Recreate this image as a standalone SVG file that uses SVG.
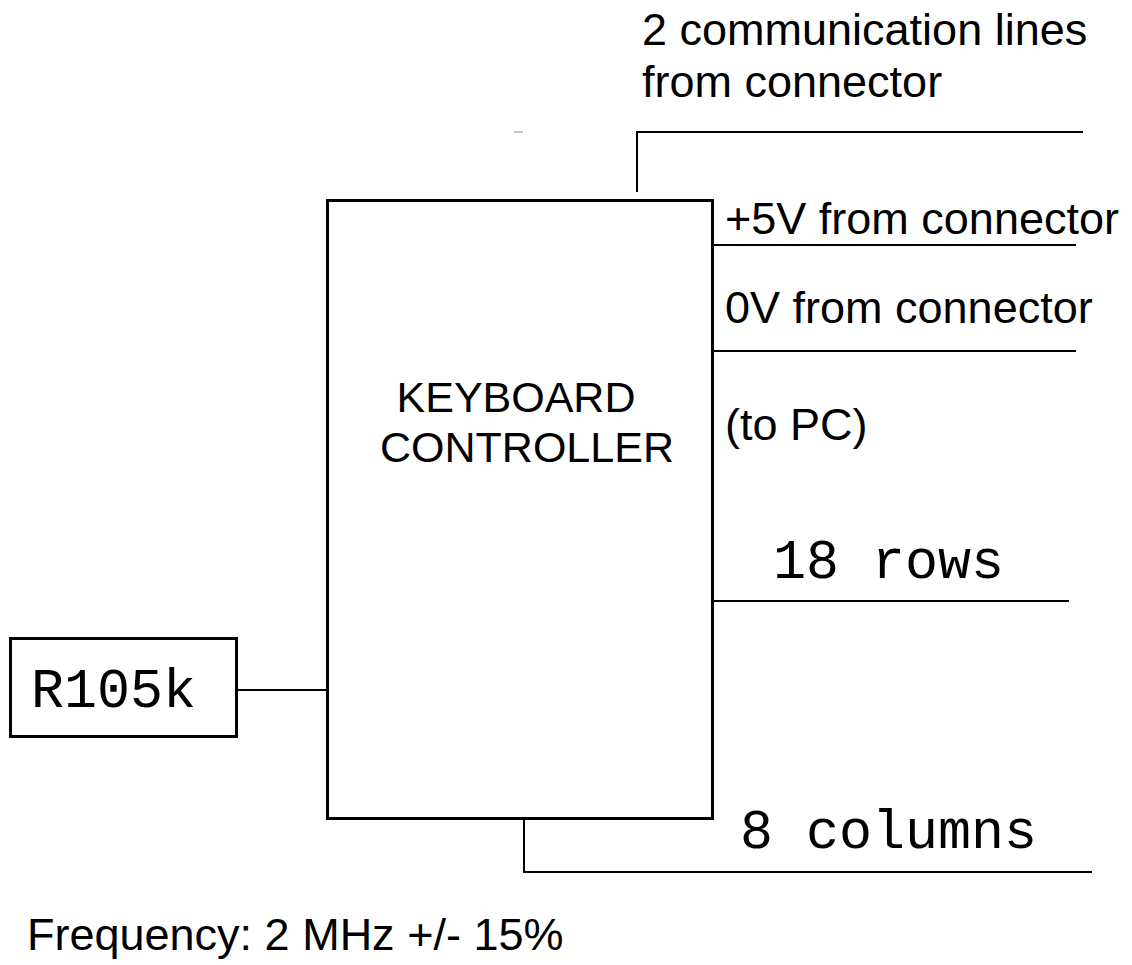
<svg xmlns="http://www.w3.org/2000/svg" width="1132" height="965" viewBox="0 0 1132 965">
<style>
.sans{font-family:"Liberation Sans",Arial,sans-serif;font-size:45px;fill:#000}
.inner{font-size:43px}
.mono{font-family:"Liberation Mono","Courier New",monospace;font-size:55px;fill:#000}
.box{fill:#fff;stroke:#000;stroke-width:3}
.wire{fill:none;stroke:#000;stroke-width:2}
</style>
<rect width="1132" height="965" fill="#fff"/>
<g id="connectors">
<path class="wire" d="M637,192 V132 H1083"/>
<path class="wire" d="M713,245 H1076"/>
<path class="wire" d="M713,351 H1076"/>
<path class="wire" d="M713,601 H1069"/>
<path class="wire" d="M524,819 V872 H1092"/>
<path class="wire" d="M237,690 H327"/>
<line x1="514" y1="132" x2="523" y2="132" stroke="#888" stroke-width="1"/>
</g>
<g id="controller">
<rect class="box" x="327.5" y="200.5" width="385" height="618"/>
<text class="sans inner" x="516" y="412" text-anchor="middle">KEYBOARD</text>
<text class="sans inner" x="527" y="462" text-anchor="middle">CONTROLLER</text>
</g>
<g id="resistor">
<rect class="box" x="10.5" y="638.5" width="226" height="98"/>
<text class="mono" x="31" y="707">R105k</text>
</g>
<g id="labels">
<text class="sans" x="642" y="45">2 communication lines</text>
<text class="sans" x="642" y="97">from connector</text>
<text class="sans" x="725" y="234">+5V from connector</text>
<text class="sans" x="725" y="323">0V from connector</text>
<text class="sans" x="725" y="440">(to PC)</text>
<text class="mono" x="773" y="578">18 rows</text>
<text class="mono" x="740" y="848">8 columns</text>
<text class="sans" x="27" y="950">Frequency: 2 MHz +/- 15%</text>
</g>
</svg>
